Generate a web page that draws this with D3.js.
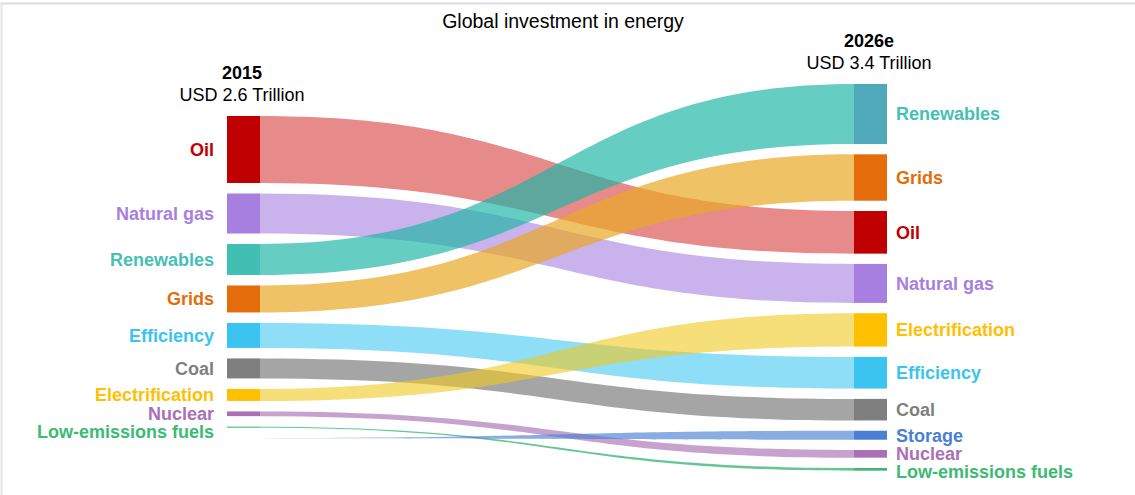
<!DOCTYPE html>
<html>
<head>
<meta charset="utf-8">
<script src="https://cdn.jsdelivr.net/npm/d3@7"></script>
<style>
  body { margin: 0; background: #fff; }
  text { font-family: "Liberation Sans", Arial, sans-serif; }
</style>
</head>
<body>
<div id="chart"></div>
<script>
/* Global investment in energy - two column flow chart */

// categories, in the 2015 order (top to bottom)
const categories = ["Oil", "Natural gas", "Renewables", "Grids", "Efficiency", "Coal",
    "Electrification", "Nuclear", "Low-emissions fuels", "Storage"];

// USD billion, same order as categories
const invest2015 = [770, 460, 356, 310, 287, 230, 138, 54, 12, 2];
const invest2026 = [490, 448, 690, 533, 364, 248, 384, 88, 31, 103];

// order of the 2026e column
const order2026 = ["Renewables", "Grids", "Oil", "Natural gas", "Electrification", "Efficiency",
    "Coal", "Storage", "Nuclear", "Low-emissions fuels"];

const years = ["2015", "2026e"];
const totals = ["USD 2.6 Trillion", "USD 3.4 Trillion"];

// colours (node / flow / label)
const nodeColor = {
    "Oil": "#c00000", "Natural gas": "#a67fe0", "Renewables": "#40bfb2", "Grids": "#e46c0a",
    "Efficiency": "#3cc4f0", "Coal": "#7f7f7f", "Electrification": "#ffc000", "Nuclear": "#a970b6",
    "Low-emissions fuels": "#3cb878", "Storage": "#4a7fd4"
};
const nodeColorRight = Object.assign({}, nodeColor, { "Renewables": "#50a9bb" });
const flowColor = {
    "Oil": ["#d42a2a", 0.55], "Natural gas": ["#a67fe0", 0.6], "Renewables": ["#1db5a5", 0.68],
    "Grids": ["#e9a825", 0.7], "Efficiency": ["#52ccf2", 0.65], "Coal": ["#7f7f7f", 0.7],
    "Electrification": ["#f0c820", 0.6], "Nuclear": ["#a970b6", 0.65],
    "Low-emissions fuels": ["#3cb878", 0.8], "Storage": ["#4a7fd4", 0.65]
};
const labelColor = Object.assign({}, nodeColor, { "Renewables": "#47c0b4", "Low-emissions fuels": "#3dba74" });

const width = 1135,
    height = 495,
    nodeWidth = 33;

const svg = d3.select("#chart")
    .append("svg")
    .attr("width", width)
    .attr("height", height)
    .attr("viewBox", [0, 0, width, height]);

// frame lines like the source
svg.append("line").attr("x1", 0).attr("x2", width).attr("y1", 3.5).attr("y2", 3.5)
    .attr("stroke", "#dcdcdc").attr("stroke-width", 2);
svg.append("line").attr("x1", 1.5).attr("x2", 1.5).attr("y1", 3).attr("y2", height)
    .attr("stroke", "#e6e6e6").attr("stroke-width", 2);

// value -> pixel height
const h = d3.scaleLinear().domain([0, 1000]).range([0, 87]);

// column centres
const x = d3.scalePoint().domain(years).range([243.5, 870.5]);

// stack a column of nodes from a top position
function stack(order, valueOf, top, gap) {
    const out = {};
    let y = top;
    for (const c of order) {
        const v = valueOf(c);
        out[c] = { y0: y, y1: y + h(v), v: v };
        y += h(v) + gap;
    }
    return out;
}

const val15 = c => invest2015[categories.indexOf(c)];
const val26 = c => invest2026[categories.indexOf(c)];
const left = stack(categories, val15, 116, 10.5);
const right = stack(order2026, val26, 84, 10.3);

const xl0 = x("2015") - nodeWidth / 2, xl1 = xl0 + nodeWidth;
const xr0 = x("2026e") - nodeWidth / 2, xr1 = xr0 + nodeWidth;
const xm = (xl1 + xr0) / 2;

// flows
function flowPath(c) {
    const a = left[c], b = right[c];
    const p = d3.path();
    p.moveTo(xl1, a.y0);
    p.bezierCurveTo(xm, a.y0, xm, b.y0, xr0, b.y0);
    p.lineTo(xr0, b.y1);
    p.bezierCurveTo(xm, b.y1, xm, a.y1, xl1, a.y1);
    p.closePath();
    return p.toString();
}

svg.append("g")
    .selectAll("path")
    .data(categories)
    .join("path")
    .attr("d", flowPath)
    .attr("fill", c => flowColor[c][0])
    .attr("fill-opacity", c => flowColor[c][1]);

// nodes
svg.append("g")
    .selectAll("rect")
    .data(categories.filter(c => left[c].v >= 10))
    .join("rect")
    .attr("x", xl0)
    .attr("y", c => left[c].y0)
    .attr("width", nodeWidth)
    .attr("height", c => left[c].y1 - left[c].y0)
    .attr("fill", c => nodeColor[c]);

svg.append("g")
    .selectAll("rect")
    .data(order2026)
    .join("rect")
    .attr("x", xr0)
    .attr("y", c => right[c].y0)
    .attr("width", nodeWidth)
    .attr("height", c => right[c].y1 - right[c].y0)
    .attr("fill", c => nodeColorRight[c]);

// label positions, nudged so they don't overlap
function labelY(order, col, minGap) {
    const out = {};
    let prev = -Infinity;
    for (const c of order) {
        let y = (col[c].y0 + col[c].y1) / 2;
        if (y - prev < minGap) y = prev + minGap;
        out[c] = y;
        prev = y;
    }
    return out;
}

const leftLabels = categories.filter(c => left[c].v >= 10);
const ly = labelY(leftLabels, left, 18);
const ry = labelY(order2026, right, 18);

svg.append("g")
    .attr("font-size", 18)
    .attr("font-weight", "bold")
    .attr("text-anchor", "end")
    .selectAll("text")
    .data(leftLabels)
    .join("text")
    .attr("x", xl0 - 13)
    .attr("y", c => ly[c])
    .attr("dy", "0.35em")
    .attr("fill", c => labelColor[c])
    .text(c => c);

svg.append("g")
    .attr("font-size", 18)
    .attr("font-weight", "bold")
    .selectAll("text")
    .data(order2026)
    .join("text")
    .attr("x", xr1 + 9)
    .attr("y", c => ry[c])
    .attr("dy", "0.35em")
    .attr("fill", c => labelColor[c])
    .text(c => c);

// column headers
const tops = [left[categories[0]].y0, right[order2026[0]].y0];
years.forEach((yr, i) => {
    svg.append("text")
        .attr("x", x(yr) - 1.5)
        .attr("y", tops[i] - 37)
        .attr("text-anchor", "middle")
        .attr("font-size", 18)
        .attr("font-weight", "bold")
        .attr("fill", "#000")
        .text(yr);
    svg.append("text")
        .attr("x", x(yr) - 1.5)
        .attr("y", tops[i] - 15)
        .attr("text-anchor", "middle")
        .attr("font-size", 18)
        .attr("fill", "#000")
        .text(totals[i]);
});

// title
svg.append("text")
    .attr("x", 563)
    .attr("y", 28)
    .attr("text-anchor", "middle")
    .attr("font-size", 19.5)
    .attr("fill", "#000")
    .text("Global investment in energy");
</script>
</body>
</html>
